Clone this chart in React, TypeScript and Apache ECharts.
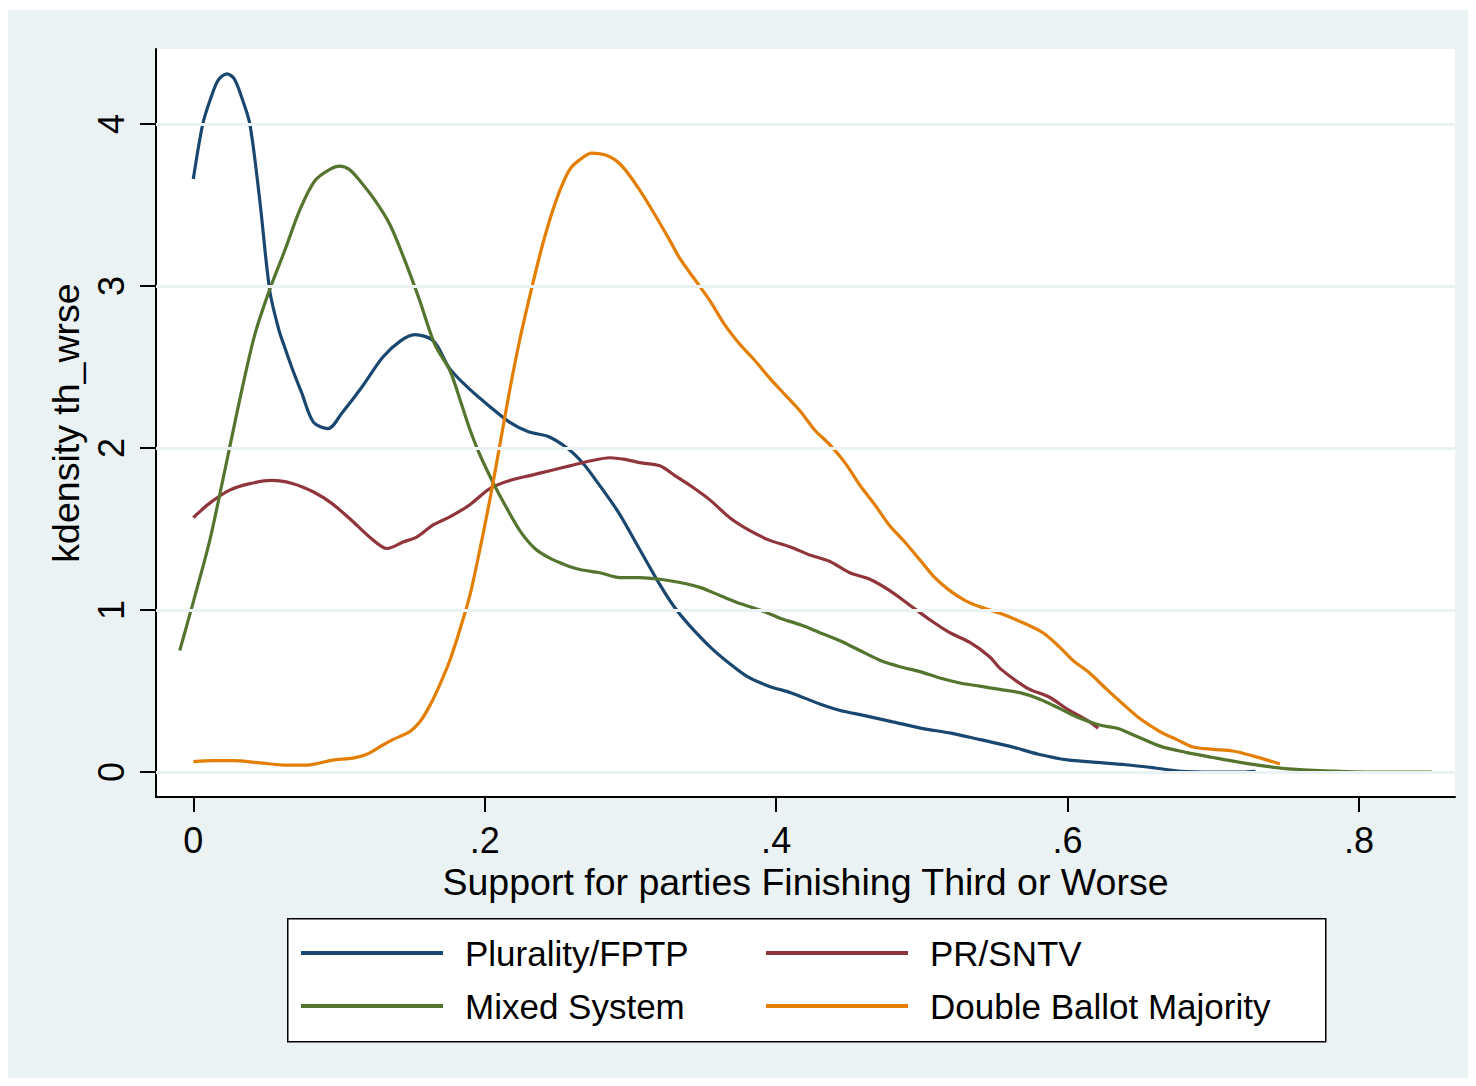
import React, { useEffect, useRef } from "react";
import * as echarts from "echarts";

// Kernel density estimates of support for third-or-worse parties, by electoral system
const pluralityFPTP: [number, number][] = [
  [0.0, 3.66], [0.0065, 4.0], [0.012, 4.16], [0.017, 4.27], [0.023, 4.31], [0.028, 4.28],
  [0.033, 4.17], [0.0388, 4.0], [0.0456, 3.53], [0.0525, 2.97], [0.0587, 2.73], [0.0628, 2.62],
  [0.0683, 2.48], [0.0744, 2.34], [0.0824, 2.16], [0.0925, 2.12], [0.1023, 2.22], [0.116, 2.38],
  [0.13, 2.56], [0.142, 2.66], [0.152, 2.7], [0.165, 2.66], [0.176, 2.49], [0.19, 2.36],
  [0.203, 2.26], [0.217, 2.16], [0.23, 2.1], [0.244, 2.07], [0.258, 1.99], [0.268, 1.9],
  [0.278, 1.78], [0.292, 1.6], [0.306, 1.38], [0.32, 1.16], [0.33, 1.02], [0.34, 0.91],
  [0.355, 0.77], [0.368, 0.67], [0.38, 0.59], [0.395, 0.53], [0.41, 0.49], [0.43, 0.42],
  [0.444, 0.38], [0.46, 0.35], [0.48, 0.31], [0.5, 0.27], [0.52, 0.24], [0.54, 0.2],
  [0.56, 0.16], [0.58, 0.11], [0.6, 0.075], [0.62, 0.06], [0.64, 0.045], [0.66, 0.025],
  [0.678, 0.005], [0.7, 0.0], [0.72, 0.0], [0.729, 0.005],
];

const prSNTV: [number, number][] = [
  [0.0, 1.57], [0.0113, 1.66], [0.025, 1.74], [0.0388, 1.78], [0.0537, 1.8], [0.0685, 1.78],
  [0.0822, 1.73], [0.0948, 1.66], [0.1097, 1.545], [0.1211, 1.45], [0.133, 1.38], [0.144, 1.42],
  [0.1532, 1.45], [0.1646, 1.525], [0.176, 1.575], [0.1898, 1.65], [0.2035, 1.75], [0.2172, 1.8],
  [0.231, 1.83], [0.2447, 1.86], [0.2584, 1.89], [0.2721, 1.92], [0.2859, 1.94], [0.2962, 1.93],
  [0.3065, 1.91], [0.3202, 1.89], [0.3305, 1.83], [0.3408, 1.77], [0.3545, 1.68], [0.3682, 1.57],
  [0.382, 1.49], [0.3957, 1.43], [0.4094, 1.39], [0.4231, 1.34], [0.4369, 1.3], [0.4506, 1.23],
  [0.4643, 1.19], [0.478, 1.12], [0.4918, 1.03], [0.5055, 0.94], [0.5192, 0.86], [0.533, 0.8],
  [0.5467, 0.71], [0.5536, 0.64], [0.572, 0.52], [0.5879, 0.46], [0.5995, 0.39], [0.6133, 0.32],
  [0.621, 0.27],
];

const mixedSystem: [number, number][] = [
  [-0.0093, 0.75], [0.0003, 1.06], [0.0113, 1.43], [0.0216, 1.86], [0.0319, 2.3], [0.0422, 2.7],
  [0.0525, 2.98], [0.0628, 3.22], [0.0731, 3.47], [0.0834, 3.65], [0.0937, 3.72], [0.1005, 3.74],
  [0.107, 3.72], [0.1143, 3.65], [0.1246, 3.53], [0.1349, 3.38], [0.1451, 3.16], [0.1554, 2.91],
  [0.1657, 2.64], [0.176, 2.48], [0.183, 2.3], [0.19, 2.11], [0.1966, 1.96], [0.205, 1.8],
  [0.2138, 1.65], [0.2241, 1.49], [0.2344, 1.38], [0.2447, 1.32], [0.255, 1.28], [0.2653, 1.25],
  [0.279, 1.23], [0.2927, 1.2], [0.3065, 1.2], [0.3202, 1.19], [0.334, 1.17], [0.3476, 1.14],
  [0.3614, 1.09], [0.3751, 1.04], [0.3888, 1.0], [0.4026, 0.95], [0.4163, 0.91], [0.43, 0.86],
  [0.4438, 0.81], [0.4575, 0.75], [0.4712, 0.69], [0.485, 0.65], [0.4987, 0.62], [0.5124, 0.58],
  [0.5261, 0.55], [0.5398, 0.53], [0.5536, 0.51], [0.5673, 0.49], [0.581, 0.45], [0.5951, 0.39],
  [0.6064, 0.34], [0.622, 0.29], [0.634, 0.27], [0.6476, 0.22], [0.6634, 0.16], [0.682, 0.12],
  [0.6997, 0.09], [0.7183, 0.06], [0.7368, 0.035], [0.7546, 0.018], [0.782, 0.006], [0.8054, 0.0],
  [0.85, 0.0],
];

const doubleBallot: [number, number][] = [
  [0.0, 0.064], [0.0134, 0.07], [0.0271, 0.07], [0.0456, 0.057], [0.0628, 0.043], [0.0779, 0.043],
  [0.0957, 0.074], [0.1095, 0.086], [0.1191, 0.11], [0.1301, 0.167], [0.1369, 0.2], [0.1486, 0.25],
  [0.1555, 0.31], [0.1623, 0.41], [0.1692, 0.54], [0.1761, 0.69], [0.183, 0.88], [0.1898, 1.09],
  [0.1966, 1.37], [0.2035, 1.68], [0.2104, 2.02], [0.2172, 2.36], [0.2241, 2.67], [0.231, 2.94],
  [0.2378, 3.19], [0.2447, 3.41], [0.2516, 3.59], [0.2584, 3.72], [0.2653, 3.78], [0.2735, 3.82],
  [0.2824, 3.81], [0.2893, 3.78], [0.2962, 3.72], [0.3065, 3.59], [0.3168, 3.44], [0.3271, 3.28],
  [0.3339, 3.17], [0.3442, 3.04], [0.3545, 2.91], [0.3648, 2.76], [0.3751, 2.64], [0.3854, 2.54],
  [0.3957, 2.43], [0.406, 2.33], [0.4163, 2.23], [0.4266, 2.11], [0.4369, 2.02], [0.4472, 1.91],
  [0.4575, 1.77], [0.4677, 1.65], [0.478, 1.52], [0.4883, 1.42], [0.4986, 1.31], [0.5089, 1.2],
  [0.5192, 1.12], [0.5295, 1.06], [0.5398, 1.02], [0.5536, 0.98], [0.5673, 0.93], [0.5831, 0.86],
  [0.5947, 0.77], [0.6036, 0.69], [0.6153, 0.61], [0.6269, 0.51], [0.638, 0.42], [0.6496, 0.33],
  [0.6634, 0.25], [0.6751, 0.2], [0.686, 0.155], [0.6997, 0.14], [0.7134, 0.13], [0.7271, 0.1],
  [0.7457, 0.05],
];

const seriesNames = ["Plurality/FPTP", "PR/SNTV", "Mixed System", "Double Ballot Majority"];
const seriesColors = ["#1A476F", "#90353B", "#55752F", "#E37E00"];
const xTicks = [0, 0.2, 0.4, 0.6, 0.8];
const yTicks = [0, 1, 2, 3, 4];
const xTitle = "Support for parties Finishing Third or Worse";
const yTitle = "kdensity th_wrse";

const X_MIN = -0.0256;
const X_MAX = 0.8659;
const Y_MIN = -0.154;
const Y_MAX = 4.463;

const FONT = "'Liberation Sans', Arial, Helvetica, sans-serif";
const BG = "#EAF2F3";

function fmtX(v: number): string {
  if (Math.abs(v) < 1e-9) return "0";
  return v.toFixed(1).replace(/^0\./, ".");
}

export default function App() {
  const ref = useRef<HTMLDivElement>(null);

  useEffect(() => {
    if (!ref.current) return;
    const chart = echarts.init(ref.current, undefined, { renderer: "svg" });
    const seriesData = [pluralityFPTP, prSNTV, mixedSystem, doubleBallot];

    const legendCommon = {
      orient: "vertical" as const,
      icon: "rect",
      itemWidth: 142,
      itemHeight: 4,
      itemGap: 13,
      selectedMode: false,
      textStyle: {
        fontFamily: FONT,
        fontSize: 35,
        color: "#000",
        lineHeight: 40,
        padding: [0, 0, 0, 17],
      },
    };

    chart.setOption({
      animation: false,
      backgroundColor: BG,
      grid: {
        left: 148,
        right: 13,
        top: 39,
        bottom: 281,
        show: true,
        backgroundColor: "#ffffff",
        borderWidth: 0,
      },
      xAxis: {
        type: "value",
        min: X_MIN,
        max: X_MAX,
        position: "bottom",
        axisLine: { show: true, onZero: false, lineStyle: { color: "#000", width: 2 } },
        axisTick: { show: true, length: 15, lineStyle: { color: "#000", width: 2 }, customValues: xTicks },
        axisLabel: {
          customValues: xTicks,
          formatter: (v: number) => fmtX(v),
          fontFamily: FONT,
          fontSize: 36,
          color: "#000",
          margin: 25,
        },
        splitLine: { show: false },
        name: xTitle,
        nameLocation: "middle",
        nameGap: 56,
        nameTextStyle: { fontFamily: FONT, fontSize: 37.5, color: "#000" },
      },
      yAxis: {
        type: "value",
        min: Y_MIN,
        max: Y_MAX,
        axisLine: { show: true, onZero: false, lineStyle: { color: "#000", width: 2 } },
        axisTick: { show: true, length: 16, lineStyle: { color: "#000", width: 2 }, customValues: yTicks },
        axisLabel: {
          customValues: yTicks,
          formatter: (v: number) => String(Math.round(v)),
          rotate: 90,
          fontFamily: FONT,
          fontSize: 36,
          color: "#000",
          margin: 27,
        },
        splitLine: { show: false },
        name: yTitle,
        nameLocation: "middle",
        nameRotate: 90,
        nameGap: 68,
        nameTextStyle: { fontFamily: FONT, fontSize: 37.5, color: "#000" },
      },
      legend: [
        { ...legendCommon, data: [seriesNames[0], seriesNames[2]], left: 288, top: 918 },
        { ...legendCommon, data: [seriesNames[1], seriesNames[3]], left: 753, top: 918 },
      ],
      graphic: [
        {
          type: "rect",
          left: 279,
          top: 908,
          z: -1,
          shape: { width: 1038, height: 123 },
          style: { fill: "#ffffff", stroke: "#000", lineWidth: 1.5 },
        },
      ],
      series: [
        {
          name: "grid",
          type: "line",
          data: [],
          z: 1,
          silent: true,
          markLine: {
            silent: true,
            symbol: "none",
            label: { show: false },
            lineStyle: { color: BG, width: 3, type: "solid" },
            data: yTicks.map((v) => ({ yAxis: v })),
          },
        },
        ...seriesNames.map((name, i) => ({
          name,
          type: "line",
          data: seriesData[i],
          z: 3,
          symbol: "none",
          showSymbol: false,
          smooth: 0.3,
          color: seriesColors[i],
          lineStyle: { color: seriesColors[i], width: 3.2 },
        })),
      ],
    });

    return () => chart.dispose();
  }, []);

  return <div ref={ref} style={{ width: 1460, height: 1068, marginTop: 2 }} />;
}
